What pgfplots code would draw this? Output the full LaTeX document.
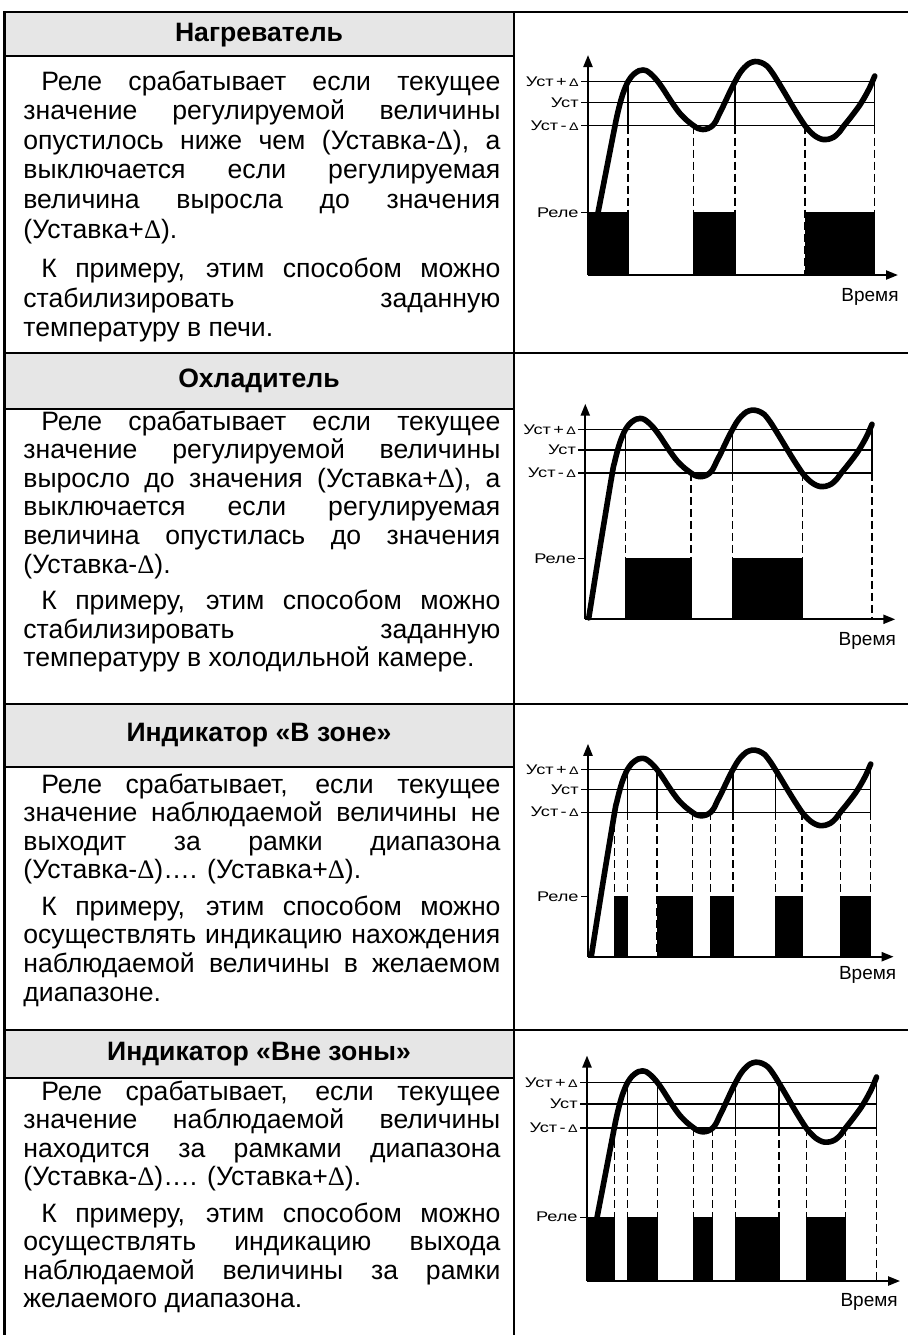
\documentclass[border=0pt]{standalone}
\usepackage{fontspec}
\setmainfont{Liberation Sans}
\newfontfamily\chartfont[FakeStretch=1.3]{Liberation Sans}
\newfontfamily\dfont{Liberation Serif}
\usepackage{pgfplots}
\usepackage{pgfplotstable}
\pgfplotsset{compat=1.18}
\usetikzlibrary{arrows.meta}
\definecolor{hdr}{RGB}{230,230,230}

\newcommand\D{{\dfont Δ}}
\newcommand\sD{{\fontsize{5.5pt}{6pt}\selectfont Δ}}
\newcommand\sps{\spaceskip=0.278em plus 1fil minus 0.06em\relax}
\newcommand\TJ[2]{\node[anchor=base west,inner sep=0pt] at (23,#1) {\hbox to 238.5pt{\sps #2}};}
\newcommand\TJI[2]{\node[anchor=base west,inner sep=0pt] at (23,#1) {\hbox to 238.5pt{\hskip 9pt\relax\sps #2}};}
\newcommand\TL[2]{\node[anchor=base west,inner sep=0pt] at (23,#1) {#2};}
\newcommand\TLI[2]{\node[anchor=base west,inner sep=0pt] at (23,#1) {\hskip 9pt\relax #2};}

% curve starting at relay level (charts 1 and 4)
\pgfplotstableread{
x y
10 62.3
18.5 105.8
27 149.3
29 159
31 167.5
33 175
35 181.5
37.5 188
40 193.3
43.5 198.5
47 201.8
51 204.3
55 205
59 204
62 201.8
66 198
70 193.3
75 186.3
80 178.5
86 169.5
92 161.5
99 154.5
105.7 149.3
110 146.6
115 145.5
120 146.5
124.5 149.3
128 154
131 160.5
135 168.5
139 177
143 185.5
147 193.3
151 200.5
155 206
161 211.5
167 213.5
173 212.5
179 209
184.5 202
190 193.3
196.5 182.5
203 171.5
210 160
217 149.3
221.5 144
226 139.8
230.5 137
235 135.5
240.5 135.8
246 138
251 142.5
256 149.3
261 155.5
266 162
271.5 169.5
277 178.5
282 188
286.7 199
}\curveA
% curve starting at the origin (charts 2 and 3)
\pgfplotstableread{
x y
3.5 1.5
15 75.4
27 149.3
29 159
31 167.5
33 175
35 181.5
37.5 188
40 193.3
43.5 198.5
47 201.8
51 204.3
55 205
59 204
62 201.8
66 198
70 193.3
75 186.3
80 178.5
86 169.5
92 161.5
99 154.5
105.7 149.3
110 146.6
115 145.5
120 146.5
124.5 149.3
128 154
131 160.5
135 168.5
139 177
143 185.5
147 193.3
151 200.5
155 206
161 211.5
167 213.5
173 212.5
179 209
184.5 202
190 193.3
196.5 182.5
203 171.5
210 160
217 149.3
221.5 144
226 139.8
230.5 137
235 135.5
240.5 135.8
246 138
251 142.5
256 149.3
261 155.5
266 162
271.5 169.5
277 178.5
282 188
286.7 199
}\curveB

\pgfplotsset{
  relay/.style={
    anchor=south west, scale only axis,
    xmin=0, xmax=310, ymin=0, ymax=220,
    axis lines=left,
    axis line style={black, line width=1.1pt, -{Triangle[length=6pt,width=4.5pt]}},
    xtick=\empty,
    ytick={62.3,149.3,172.7,193.3},
    yticklabels={Реле,{Уст\,-\,\sD},Уст,{Уст\,+\,\sD}},
    tick align=outside,
    major tick length=3.5pt,
    tick style={black, line width=0.6pt},
    yticklabel style={font=\chartfont\fontsize{7pt}{8pt}\selectfont, inner sep=1pt},
    clip=false,
  },
  thr/.style={black, line width=0.6pt, mark=none},
  dsh/.style={black, line width=0.6pt, dash pattern=on 4pt off 2pt, mark=none},
  bar/.style={fill=black, draw=black, line width=0.3pt, mark=none},
  curve/.style={black, line width=2.8pt, smooth, tension=0.5, line cap=round, line join=round, mark=none},
}

\newcommand\levels{%
  \addplot[thr] coordinates {(0,193.3) (286.7,193.3)};
  \addplot[thr] coordinates {(0,172.7) (286.7,172.7)};
  \addplot[thr] coordinates {(0,149.3) (286.7,149.3)};
}

\begin{document}
\fontsize{13.3pt}{16pt}\selectfont
\begin{tikzpicture}
\useasboundingbox (0,0) rectangle (454pt,-667.5pt);
\begin{scope}[x=0.5pt,y=-0.5pt]
  % header fills
  \fill[hdr] (4.5,12) rectangle (514,56);
  \fill[hdr] (4.5,353) rectangle (514,409);
  \fill[hdr] (4.5,704) rectangle (514,767);
  \fill[hdr] (4.5,1030) rectangle (514,1078);
  % table lines
  \begin{scope}[line width=1.4pt]
    \draw (3.8,12) -- (908,12);
    \draw (3.8,353) -- (908,353);
    \draw (3.8,704) -- (908,704);
    \draw (3.8,1030) -- (908,1030);
    \draw (4.5,56) -- (514,56);
    \draw (4.5,409) -- (514,409);
    \draw (4.5,767) -- (514,767);
    \draw (4.5,1078) -- (514,1078);
    \draw (4.5,11.3) -- (4.5,1335);
    \draw (514,11.3) -- (514,1335);
  \end{scope}
  % headers
  \node[anchor=base,font=\bfseries] at (259,41) {Нагреватель};
  \node[anchor=base,font=\bfseries] at (259,387) {Охладитель};
  \node[anchor=base,font=\bfseries] at (259,741) {Индикатор «В зоне»};
  \node[anchor=base,font=\bfseries] at (259,1060) {Индикатор «Вне зоны»};
  % row 1
  \TJI{90}{Реле срабатывает если текущее}
  \TJ{119.6}{значение регулируемой величины}
  \TJ{149.2}{опустилось ниже чем (Уставка-\D), а}
  \TJ{178.8}{выключается если регулируемая}
  \TJ{208.4}{величина выросла до значения}
  \TL{238}{(Уставка+\D).}
  \TJI{277.6}{К примеру, этим способом можно}
  \TJ{307.2}{стабилизировать заданную}
  \TL{336.8}{температуру в печи.}
  % row 2
  \TJI{430}{Реле срабатывает если текущее}
  \TJ{458.6}{значение регулируемой величины}
  \TJ{487.2}{выросло до значения (Уставка+\D), а}
  \TJ{515.8}{выключается если регулируемая}
  \TJ{544.4}{величина опустилась до значения}
  \TL{573}{(Уставка-\D).}
  \TJI{609.6}{К примеру, этим способом можно}
  \TJ{638.2}{стабилизировать заданную}
  \TL{666.8}{температуру в холодильной камере.}
  % row 3
  \TJI{793}{Реле срабатывает, если текущее}
  \TJ{821.5}{значение наблюдаемой величины не}
  \TJ{850}{выходит за рамки диапазона}
  \TL{878.5}{(Уставка-\D)…. (Уставка+\D).}
  \TJI{915}{К примеру, этим способом можно}
  \TJ{943.5}{осуществлять индикацию нахождения}
  \TJ{972}{наблюдаемой величины в желаемом}
  \TL{1001}{диапазоне.}
  % row 4
  \TJI{1100}{Реле срабатывает, если текущее}
  \TJ{1128.5}{значение наблюдаемой величины}
  \TJ{1157}{находится за рамками диапазона}
  \TL{1185.5}{(Уставка-\D)…. (Уставка+\D).}
  \TJI{1222.4}{К примеру, этим способом можно}
  \TJ{1250.9}{осуществлять индикацию выхода}
  \TJ{1279.4}{наблюдаемой величины за рамки}
  \TL{1307.9}{желаемого диапазона.}
\end{scope}

% ---------- chart 1: heater ----------
\begin{axis}[relay, at={(294pt,-137.5pt)}, x=0.5pt, y=0.5pt]
  \levels
  \addplot[thr] coordinates {(40,193.3) (40,149.3)};
  \addplot[thr] coordinates {(147,193.3) (147,149.3)};
  \addplot[thr] coordinates {(286.7,199) (286.7,149.3)};
  \addplot[dsh] coordinates {(40,149.3) (40,0)};
  \addplot[dsh] coordinates {(105.7,149.3) (105.7,0)};
  \addplot[dsh] coordinates {(147,149.3) (147,0)};
  \addplot[dsh] coordinates {(217,149.3) (217,0)};
  \addplot[dsh] coordinates {(286.7,149.3) (286.7,0)};
  \addplot[bar] coordinates {(0,62.3) (40,62.3)} \closedcycle;
  \addplot[bar] coordinates {(105.7,62.3) (147,62.3)} \closedcycle;
  \addplot[bar] coordinates {(217,62.3) (286.7,62.3)} \closedcycle;
  \addplot[curve] table {\curveA};
  \node[anchor=east, inner sep=0pt, font=\fontsize{9.5pt}{11pt}\selectfont] at (axis cs:311,-21.7) {Время};
\end{axis}

% ---------- chart 2: cooler ----------
\begin{axis}[relay, at={(292.65pt,-309.65pt)}, x=0.5pt, y=0.49pt]
  \levels
  \addplot[thr] coordinates {(40,193.3) (40,149.3)};
  \addplot[thr] coordinates {(147,193.3) (147,149.3)};
  \addplot[thr] coordinates {(286.7,199) (286.7,149.3)};
  \addplot[dsh] coordinates {(40,149.3) (40,0)};
  \addplot[dsh] coordinates {(105.7,149.3) (105.7,0)};
  \addplot[dsh] coordinates {(147,149.3) (147,0)};
  \addplot[dsh] coordinates {(217,149.3) (217,0)};
  \addplot[dsh] coordinates {(286.7,149.3) (286.7,0)};
  \addplot[bar] coordinates {(40,62.3) (105.7,62.3)} \closedcycle;
  \addplot[bar] coordinates {(147,62.3) (217,62.3)} \closedcycle;
  \addplot[curve] table {\curveB};
  \node[anchor=east, inner sep=0pt, font=\fontsize{9.5pt}{11pt}\selectfont] at (axis cs:311,-22.5) {Время};
\end{axis}

% ---------- chart 3: in zone ----------
\begin{axis}[relay, at={(294pt,-478.35pt)}, x=0.493pt, y=0.484pt]
  \levels
  \addplot[thr] coordinates {(40,193.3) (40,149.3)};
  \addplot[thr] coordinates {(70,193.3) (70,149.3)};
  \addplot[thr] coordinates {(147,193.3) (147,149.3)};
  \addplot[thr] coordinates {(190,193.3) (190,149.3)};
  \addplot[thr] coordinates {(286.7,199) (286.7,149.3)};
  \addplot[dsh] coordinates {(27,149.3) (27,0)};
  \addplot[dsh] coordinates {(40,149.3) (40,0)};
  \addplot[dsh] coordinates {(70,149.3) (70,0)};
  \addplot[dsh] coordinates {(105.7,149.3) (105.7,0)};
  \addplot[dsh] coordinates {(124.5,149.3) (124.5,0)};
  \addplot[dsh] coordinates {(147,149.3) (147,0)};
  \addplot[dsh] coordinates {(190,149.3) (190,0)};
  \addplot[dsh] coordinates {(217,149.3) (217,0)};
  \addplot[dsh] coordinates {(256,149.3) (256,0)};
  \addplot[dsh] coordinates {(286.7,149.3) (286.7,0)};
  \addplot[bar] coordinates {(27,62.3) (40,62.3)} \closedcycle;
  \addplot[bar] coordinates {(70,62.3) (105.7,62.3)} \closedcycle;
  \addplot[bar] coordinates {(124.5,62.3) (147,62.3)} \closedcycle;
  \addplot[bar] coordinates {(190,62.3) (217,62.3)} \closedcycle;
  \addplot[bar] coordinates {(256,62.3) (286.7,62.3)} \closedcycle;
  \addplot[curve] table {\curveB};
  \node[anchor=east, inner sep=0pt, font=\fontsize{9.5pt}{11pt}\selectfont] at (axis cs:313,-19) {Время};
\end{axis}

% ---------- chart 4: out of zone ----------
\begin{axis}[relay, at={(293.5pt,-640.5pt)}, x=0.505pt, y=0.5125pt]
  \levels
  \addplot[thr] coordinates {(40,193.3) (40,149.3)};
  \addplot[thr] coordinates {(70,193.3) (70,149.3)};
  \addplot[thr] coordinates {(147,193.3) (147,149.3)};
  \addplot[thr] coordinates {(190,193.3) (190,149.3)};
  \addplot[thr] coordinates {(286.7,199) (286.7,149.3)};
  \addplot[dsh] coordinates {(27,149.3) (27,0)};
  \addplot[dsh] coordinates {(40,149.3) (40,0)};
  \addplot[dsh] coordinates {(70,149.3) (70,0)};
  \addplot[dsh] coordinates {(105.7,149.3) (105.7,0)};
  \addplot[dsh] coordinates {(124.5,149.3) (124.5,0)};
  \addplot[dsh] coordinates {(147,149.3) (147,0)};
  \addplot[dsh] coordinates {(190,149.3) (190,0)};
  \addplot[dsh] coordinates {(217,149.3) (217,0)};
  \addplot[dsh] coordinates {(256,149.3) (256,0)};
  \addplot[dsh] coordinates {(286.7,149.3) (286.7,0)};
  \addplot[bar] coordinates {(0,62.3) (27,62.3)} \closedcycle;
  \addplot[bar] coordinates {(40,62.3) (70,62.3)} \closedcycle;
  \addplot[bar] coordinates {(105.7,62.3) (124.5,62.3)} \closedcycle;
  \addplot[bar] coordinates {(147,62.3) (190,62.3)} \closedcycle;
  \addplot[bar] coordinates {(217,62.3) (256,62.3)} \closedcycle;
  \addplot[curve] table {\curveA};
  \node[anchor=east, inner sep=0pt, font=\fontsize{9.5pt}{11pt}\selectfont] at (axis cs:308,-20.5) {Время};
\end{axis}
\end{tikzpicture}
\end{document}
